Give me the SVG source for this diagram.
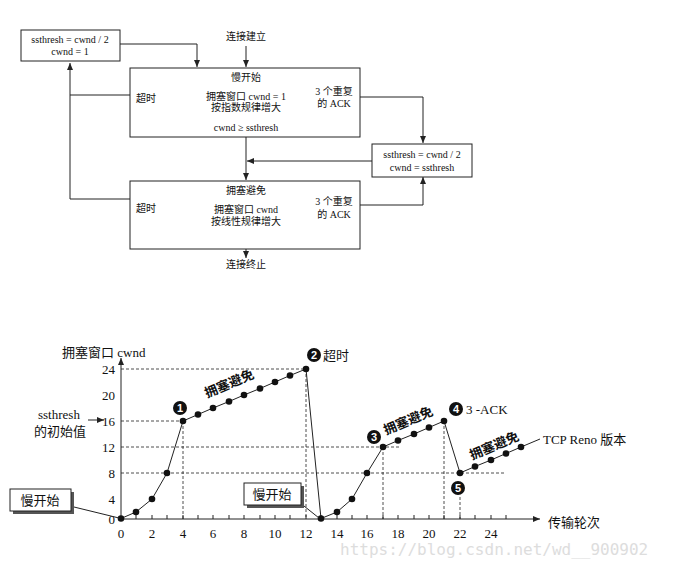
<svg xmlns="http://www.w3.org/2000/svg" width="674" height="563" viewBox="0 0 674 563">
<style>
text{font-family:"Liberation Serif","Noto Sans CJK SC",serif;font-size:10px;fill:#111}
.b{fill:#fff;stroke:#222;stroke-width:1}
.l{fill:none;stroke:#222;stroke-width:1}
.d{fill:none;stroke:#222;stroke-width:0.8;stroke-dasharray:3,2}
.c{fill:#111}
.n{fill:#fff;font-family:"Liberation Sans",sans-serif;font-weight:bold;font-size:11px}
.t{font-size:13px}
.lab{font-size:13px;font-weight:bold}
</style>
<defs><marker id="a" markerWidth="8" markerHeight="8" refX="7" refY="4" orient="auto" markerUnits="userSpaceOnUse"><path d="M0,1L7,4L0,7z" fill="#222"/></marker></defs>
<rect width="674" height="563" fill="#fff"/>
<g id="connectors">
<path class="l" d="M120,44H197V67" marker-end="url(#a)"/>
<path class="l" d="M246,46V67" marker-end="url(#a)"/>
<path class="l" d="M130,95H70M130,199H70V63" marker-end="url(#a)"/>
<path class="l" d="M360,97H423V143" marker-end="url(#a)"/>
<path class="l" d="M360,205H423V177" marker-end="url(#a)"/>
<path class="l" d="M372,161H247" marker-end="url(#a)"/>
<path class="l" d="M246,137V180" marker-end="url(#a)"/>
<path class="l" d="M246,249V258" marker-end="url(#a)"/>
</g>
<g id="n-start"><text x="246" y="40" text-anchor="middle">连接建立</text></g>
<g id="n-reset1"><rect class="b" x="21" y="30" width="99" height="31"/><text x="70" y="43" text-anchor="middle">ssthresh = cwnd / 2</text><text x="70" y="55" text-anchor="middle">cwnd = 1</text></g>
<g id="n-slow"><rect class="b" x="130" y="68" width="230" height="69"/>
<text x="246" y="81" text-anchor="middle">慢开始</text><text x="246" y="100" text-anchor="middle">拥塞窗口 cwnd = 1</text><text x="246" y="111" text-anchor="middle">按指数规律增大</text><text x="246" y="131" text-anchor="middle">cwnd ≥ ssthresh</text>
<text x="136" y="102">超时</text><text x="334" y="95" text-anchor="middle">3 个重复</text><text x="334" y="107" text-anchor="middle">的 ACK</text></g>
<g id="n-reset2"><rect class="b" x="372" y="144" width="100" height="33"/><text x="422" y="158" text-anchor="middle">ssthresh = cwnd / 2</text><text x="422" y="171" text-anchor="middle">cwnd = ssthresh</text></g>
<g id="n-avoid"><rect class="b" x="130" y="181" width="230" height="68"/>
<text x="246" y="194" text-anchor="middle">拥塞避免</text><text x="246" y="213" text-anchor="middle">拥塞窗口 cwnd</text><text x="246" y="225" text-anchor="middle">按线性规律增大</text>
<text x="136" y="212">超时</text><text x="334" y="205" text-anchor="middle">3 个重复</text><text x="334" y="218" text-anchor="middle">的 ACK</text></g>
<g id="n-end"><text x="246" y="268" text-anchor="middle">连接终止</text></g>

<g id="chart">
<path class="l" d="M121,519V358" marker-end="url(#a)"/>
<path class="l" d="M121,519H540" marker-end="url(#a)"/>
<text class="t" x="62" y="357">拥塞窗口 cwnd</text>
<text class="t" x="548" y="527">传输轮次</text>
<g class="t" text-anchor="end">
<text x="115" y="374" class="t">24</text><text x="115" y="400" class="t">20</text><text x="115" y="426" class="t">16</text><text x="115" y="452" class="t">12</text><text x="115" y="478" class="t">8</text><text x="115" y="504" class="t">4</text><text x="115" y="524" class="t">0</text>
</g>
<g text-anchor="middle">
<text x="121" y="538" class="t">0</text><text x="152" y="538" class="t">2</text><text x="183" y="538" class="t">4</text><text x="213" y="538" class="t">6</text><text x="244" y="538" class="t">8</text><text x="275" y="538" class="t">10</text><text x="306" y="538" class="t">12</text><text x="337" y="538" class="t">14</text><text x="367" y="538" class="t">16</text><text x="398" y="538" class="t">18</text><text x="429" y="538" class="t">20</text><text x="460" y="538" class="t">22</text><text x="491" y="538" class="t">24</text>
</g>
<path class="l" d="M136,519v-4M152,519v-4M167,519v-4M183,519v-4M198,519v-4M213,519v-4M229,519v-4M244,519v-4M260,519v-4M275,519v-4M290,519v-4M306,519v-4M321,519v-4M337,519v-4M352,519v-4M367,519v-4M383,519v-4M398,519v-4M414,519v-4M429,519v-4M444,519v-4M460,519v-4M475,519v-4M491,519v-4M506,519v-4"/>
<text class="t" x="38" y="419">ssthresh</text><text class="t" x="34" y="436">的初始值</text>
<path class="l" d="M88,420H104" marker-end="url(#a)"/>
<path class="d" d="M121,369H306M121,421H183M121,447H400M121,473H505M183,421V519M306,369V519M383,447V519M444,421V519M460,497V519"/>
<polyline class="l" points="121,518.5 136,512 152,499 167,473 183,421 198,414.5 213,408 229,401.5 244,395 260,388.5 275,382 290,375.5 306,369 321,518.5 337,512 352,499 367,473 383,447 398,440.5 414,434 429,427.5 444,421 460,473 475,466.5 491,460 506,453.5 521,447 540,439"/>
<g class="c">
<circle cx="121" cy="518.5" r="3.3"/><circle cx="136" cy="512" r="3.3"/><circle cx="152" cy="499" r="3.3"/><circle cx="167" cy="473" r="3.3"/><circle cx="183" cy="421" r="3.3"/><circle cx="198" cy="414.5" r="3.3"/><circle cx="213" cy="408" r="3.3"/><circle cx="229" cy="401.5" r="3.3"/><circle cx="244" cy="395" r="3.3"/><circle cx="260" cy="388.5" r="3.3"/><circle cx="275" cy="382" r="3.3"/><circle cx="290" cy="375.5" r="3.3"/><circle cx="306" cy="369" r="3.3"/><circle cx="321" cy="518.5" r="3.3"/><circle cx="337" cy="512" r="3.3"/><circle cx="352" cy="499" r="3.3"/><circle cx="367" cy="473" r="3.3"/><circle cx="383" cy="447" r="3.3"/><circle cx="398" cy="440.5" r="3.3"/><circle cx="414" cy="434" r="3.3"/><circle cx="429" cy="427.5" r="3.3"/><circle cx="444" cy="421" r="3.3"/><circle cx="460" cy="473" r="3.3"/><circle cx="475" cy="466.5" r="3.3"/><circle cx="491" cy="460" r="3.3"/><circle cx="506" cy="453.5" r="3.3"/><circle cx="521" cy="447" r="3.3"/>
</g>
<text class="lab" x="0" y="0" transform="translate(207,398) rotate(-23)">拥塞避免</text>
<text class="lab" x="0" y="0" transform="translate(386,435) rotate(-23)">拥塞避免</text>
<text class="lab" x="0" y="0" transform="translate(472,460) rotate(-23)">拥塞避免</text>
<text class="t" x="543" y="444">TCP Reno 版本</text>
<circle class="c" cx="180" cy="408" r="7"/><text class="n" x="180" y="412" text-anchor="middle">1</text>
<circle class="c" cx="314" cy="355" r="7"/><text class="n" x="314" y="359" text-anchor="middle">2</text><text class="t" x="323" y="360">超时</text>
<circle class="c" cx="374" cy="437" r="7"/><text class="n" x="374" y="441" text-anchor="middle">3</text>
<circle class="c" cx="456" cy="409" r="7"/><text class="n" x="456" y="413" text-anchor="middle">4</text><text class="t" x="466" y="414">3 -ACK</text>
<circle class="c" cx="458" cy="488" r="7"/><text class="n" x="458" y="492" text-anchor="middle">5</text>
<g id="n-ss1"><rect x="13" y="492" width="61" height="22" fill="#555"/><rect class="b" x="10" y="489" width="61" height="22"/><text class="t" x="40" y="505" text-anchor="middle">慢开始</text><path class="l" d="M74,507L119,518"/></g>
<g id="n-ss2"><rect x="247" y="486" width="57" height="22" fill="#555"/><rect class="b" x="244" y="483" width="57" height="22"/><text class="t" x="272" y="499" text-anchor="middle">慢开始</text><path class="l" d="M304,506L319,518"/></g>
</g>
<text x="340" y="555" style="font-family:'DejaVu Sans Mono',monospace;font-size:16px;fill:#ddd">https://blog.csdn.net/wd__900902</text>
</svg>
